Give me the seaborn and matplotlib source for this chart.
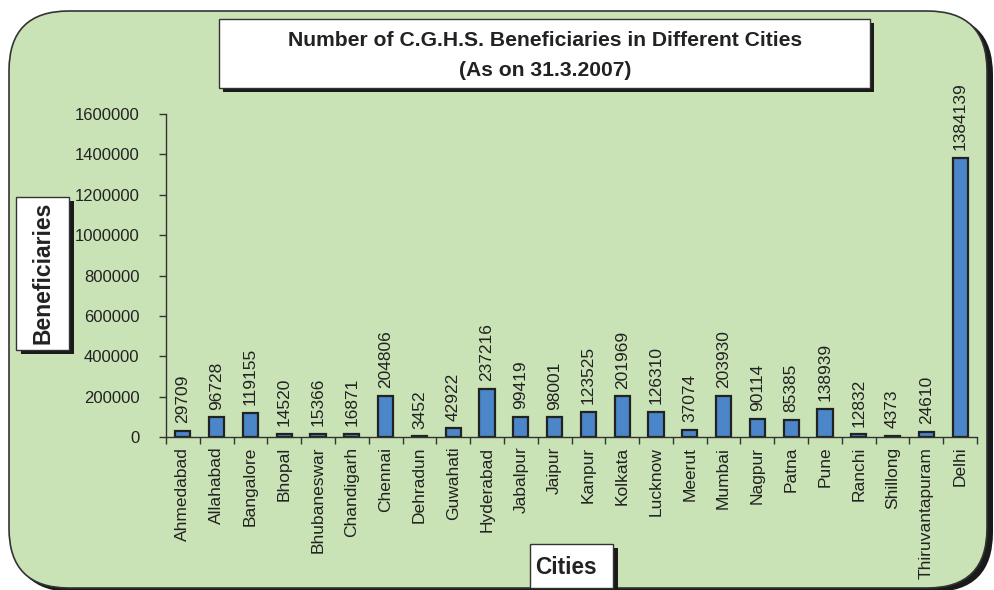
import matplotlib
matplotlib.use("Agg")
import matplotlib.pyplot as plt
import seaborn as sns
import pandas as pd
import numpy as np
from matplotlib.patches import FancyBboxPatch, Rectangle

# data
cities = ["Ahmedabad", "Allahabad", "Bangalore", "Bhopal", "Bhubaneswar",
          "Chandigarh", "Chennai", "Dehradun", "Guwahati", "Hyderabad",
          "Jabalpur", "Jaipur", "Kanpur", "Kolkata", "Lucknow", "Meerut",
          "Mumbai", "Nagpur", "Patna", "Pune", "Ranchi", "Shillong",
          "Thiruvantapuram", "Delhi"]
beneficiaries = [29709, 96728, 119155, 14520, 15366, 16871, 204806, 3452,
                 42922, 237216, 99419, 98001, 123525, 201969, 126310, 37074,
                 203930, 90114, 85385, 138939, 12832, 4373, 24610, 1384139]
yticks = [0, 200000, 400000, 600000, 800000, 1000000, 1200000, 1400000, 1600000]

df = pd.DataFrame({"City": cities, "Beneficiaries": beneficiaries})

sns.set_style("white")
plt.rcParams['font.family'] = ['Liberation Sans', 'DejaVu Sans']

W, H = 994, 590
fig = plt.figure(figsize=(W / 100, H / 100), dpi=100)
fig.patch.set_facecolor("white")

bg = "#CAE3B6"

def fx(px):
    return px / W

def fy(py):
    return 1 - py / H

# rounded green panel with dark shadow
shadow = FancyBboxPatch((fx(13), fy(592)), fx(980), fy(15) - fy(592),
                        boxstyle="round,pad=0,rounding_size=0.06",
                        transform=fig.transFigure, facecolor="#1a1a1a",
                        edgecolor="none", mutation_aspect=W / H, zorder=-3)
panel = FancyBboxPatch((fx(9), fy(588)), fx(978), fy(11) - fy(588),
                       boxstyle="round,pad=0,rounding_size=0.06",
                       transform=fig.transFigure, facecolor=bg,
                       edgecolor="#333333", linewidth=1.2,
                       mutation_aspect=W / H, zorder=-2)
fig.patches.extend([shadow, panel])

ax = fig.add_axes([fx(166), fy(437), fx(977) - fx(166), fy(114) - fy(437)])
ax.set_facecolor("none")
ax.set_zorder(0)

sns.barplot(data=df, x="City", y="Beneficiaries", color="#4A86C8",
            saturation=1, width=0.45, edgecolor="#222222", linewidth=1.6,
            ax=ax)

ax.set_xlim(-0.5, len(cities) - 0.5)
ax.set_ylim(0, 1600000)
ax.set_yticks(yticks)
ax.set_yticklabels([str(v) for v in yticks], fontsize=12, color="#222222")
ax.set_xticks(range(len(cities)))
ax.set_xticklabels(cities, rotation=90, fontsize=12.5, color="#222222")
ax.set_xticks(np.arange(-0.5, len(cities), 1), minor=True)
ax.tick_params(axis="x", which="major", length=0, pad=7)
ax.tick_params(axis="x", which="minor", length=5, width=1, color="#333333",
               direction="out", bottom=True)
ax.tick_params(axis="y", which="major", length=5, width=1, color="#333333",
               direction="out", left=True, pad=14)
for s in ["top", "right"]:
    ax.spines[s].set_visible(False)
for s in ["left", "bottom"]:
    ax.spines[s].set_color("#333333")
    ax.spines[s].set_linewidth(1)
ax.set_xlabel("")
ax.set_ylabel("")

for i, v in enumerate(beneficiaries):
    ax.text(i, v + 38000, str(v), rotation=90, ha="center", va="bottom",
            fontsize=12.5, color="#222222")

# title box
fig.patches.append(Rectangle((fx(223), fy(92)), fx(651), fy(19) - fy(88),
                             transform=fig.transFigure, facecolor="#1a1a1a",
                             edgecolor="none", zorder=1))
fig.patches.append(Rectangle((fx(219), fy(88)), fx(651), fy(19) - fy(88),
                             transform=fig.transFigure, facecolor="white",
                             edgecolor="#333333", linewidth=1, zorder=2))
fig.text(fx(545), fy(41), "Number of C.G.H.S. Beneficiaries in Different Cities",
         ha="center", va="center", fontsize=15.2, fontweight="bold",
         color="#222222", zorder=3)
fig.text(fx(545), fy(70), "(As on 31.3.2007)", ha="center", va="center",
         fontsize=15.2, fontweight="bold", color="#222222", zorder=3)

# y label box
fig.patches.append(Rectangle((fx(21), fy(354)), fx(53), fy(197) - fy(350),
                             transform=fig.transFigure, facecolor="#1a1a1a",
                             edgecolor="none", zorder=1))
fig.patches.append(Rectangle((fx(16), fy(350)), fx(53), fy(197) - fy(350),
                             transform=fig.transFigure, facecolor="white",
                             edgecolor="#333333", linewidth=1, zorder=2))
fig.text(fx(43), fy(273), "Beneficiaries", rotation=90, ha="center",
         va="center", fontsize=16.5, fontweight="bold", color="#222222",
         zorder=3)

# x label box
fig.patches.append(Rectangle((fx(535), fy(590)), fx(83), fy(548) - fy(590),
                             transform=fig.transFigure, facecolor="#1a1a1a",
                             edgecolor="none", zorder=1))
fig.patches.append(Rectangle((fx(530), fy(588)), fx(83), fy(544) - fy(588),
                             transform=fig.transFigure, facecolor="white",
                             edgecolor="#333333", linewidth=1, zorder=2))
fig.text(fx(566), fy(567), "Cities", ha="center", va="center", fontsize=16.3,
         fontweight="bold", color="#222222", zorder=3)

fig.savefig("out.png", dpi=100)
